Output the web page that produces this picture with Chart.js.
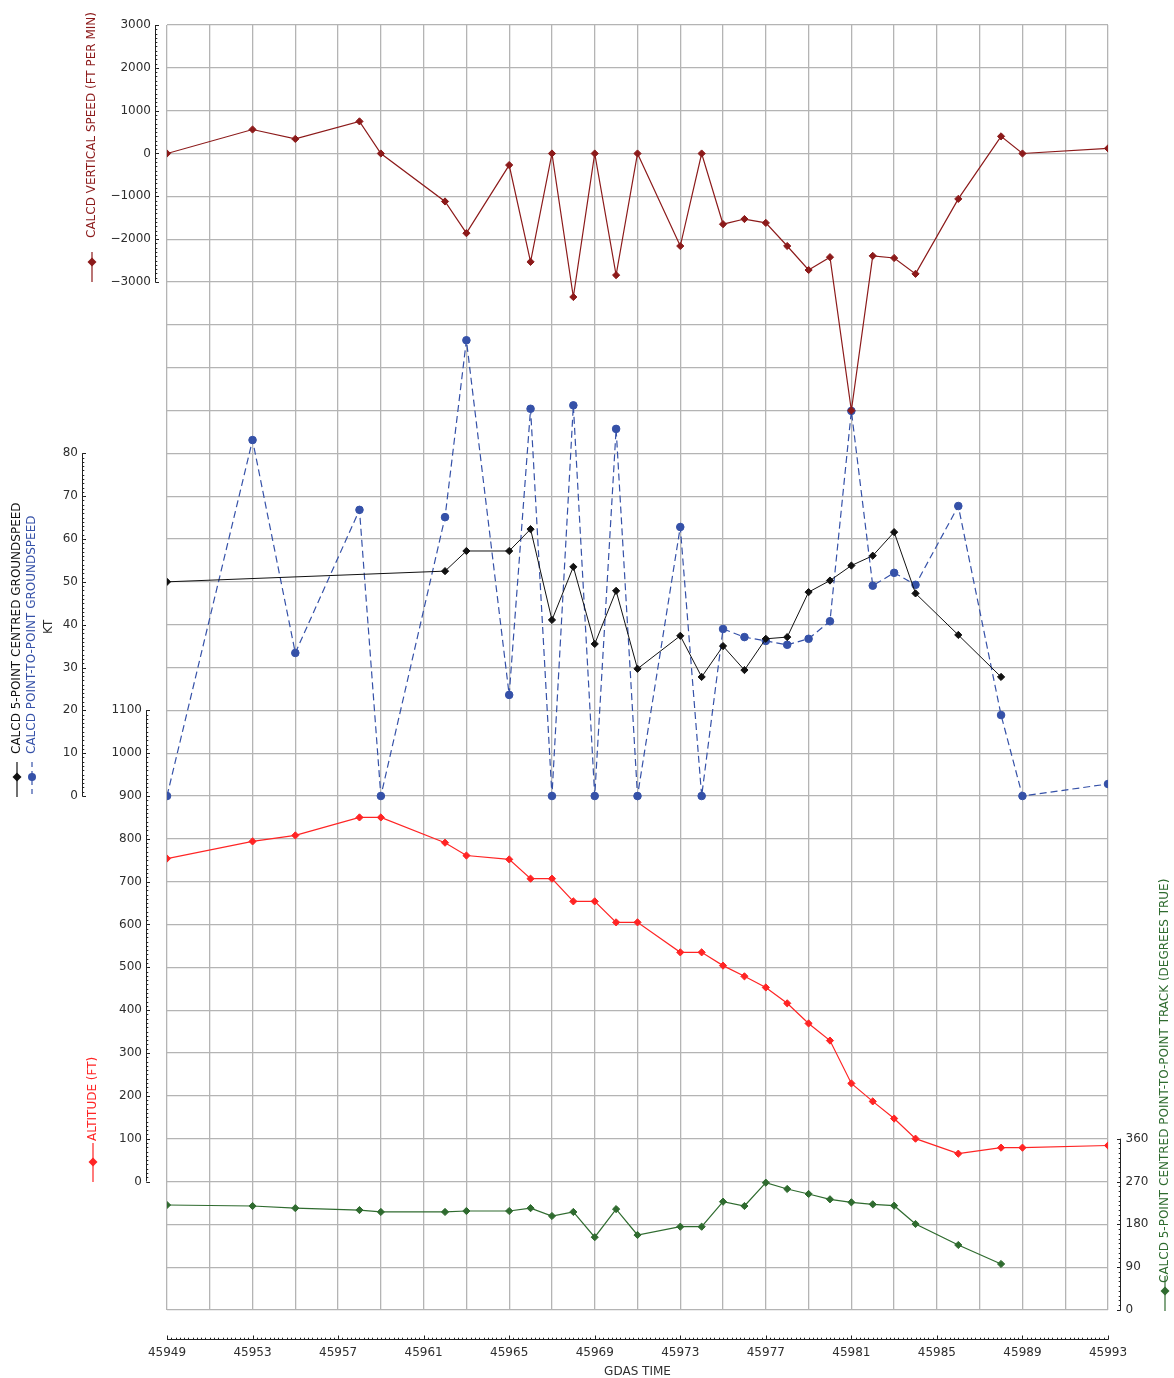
<!DOCTYPE html>
<html><head><meta charset="utf-8">
<script src="https://cdn.jsdelivr.net/npm/chart.js@4.4.1/dist/chart.umd.min.js"></script>
<style>html,body{margin:0;padding:0;background:#fff}#wrap{width:1174px;height:1378px;position:relative}</style>
</head><body><div id="wrap"><canvas id="c" width="1174" height="1378"></canvas></div>
<script>
// ---------- DATA ----------
const gdasTime = [45949,45953,45955,45958,45959,45962,45963,45965,45966,45967,45968,45969,45970,45971,45973,45974,45975,45976,45977,45978,45979,45980,45981,45982,45983,45984,45986,45988,45989,45993];
const vertSpeed = [0,560,340,750,0,-1120,-1860,-270,-2530,0,-3350,0,-2840,0,-2160,0,-1650,-1530,-1620,-2160,-2720,-2420,-6000,-2390,-2440,-2810,-1060,400,0,120];
const ptpGroundspeed = [0,83.1,33.4,66.8,0,65.1,106.4,23.6,90.4,0,91.2,0,85.7,0,62.8,0,39.0,37.1,36.2,35.3,36.7,40.8,89.9,49.1,52.1,49.3,67.7,18.9,0,2.8];
const centredGroundspeed = [50.0,null,null,null,null,52.5,57.2,57.2,62.3,41.1,53.5,35.5,47.9,29.7,37.4,27.8,35.0,29.4,36.7,37.1,47.6,50.3,53.8,56.1,61.6,47.3,37.6,27.8,null,null];
const altitude = [754,794,808,850,850,791,761,752,707,707,654,654,605,605,535,535,504,479,453,416,369,329,229,187,147,100,65,79,79,84];
const track = [220.6,218.5,214,210,206,206,208,208,214,197.5,206,153,212,157.6,175,175,227.6,218.5,267.5,254.3,243.8,232.6,226.3,222.1,219.2,180.7,136.6,96.7,null,null];

const xTickLabels = [45949,45953,45957,45961,45965,45969,45973,45977,45981,45985,45989,45993];
const vsTicks = [3000,2000,1000,0,-1000,-2000,-3000];
const gsTicks = [80,70,60,50,40,30,20,10,0];
const altTicks = [1100,1000,900,800,700,600,500,400,300,200,100,0];
const trackTicks = [360,270,180,90,0];

// ---------- STYLE ----------
const C_VS = '#8c1a1a', C_ALT = '#ff2424', C_GS = '#111111', C_PTP = '#3551a8', C_TRK = '#2f6b2f';
const GRID = '#b4b4b4';
const FONT = '12px "DejaVu Sans", sans-serif';
const TXT = '#2e2e2e';

function pts(vals){ return gdasTime.map((t,i)=>({x:t, y:vals[i]})); }
function fmt(v){ return v < 0 ? '\u2212' + Math.abs(v) : String(v); }

const xGrid = []; for (let v = 45949; v <= 45993; v += 2) xGrid.push(v);
const vsGrid = []; for (let v = -27000; v <= 3000; v += 1000) vsGrid.push(v);

function drawYAxis(ctx, scale, spec){
  const {x, side, ticks, minor} = spec;
  const dir = side === 'left' ? 1 : -1;
  const lo = Math.min(...ticks), hi = Math.max(...ticks);
  const yTop = scale.getPixelForValue(hi), yBot = scale.getPixelForValue(lo);
  ctx.save();
  ctx.strokeStyle = '#222'; ctx.lineWidth = 1;
  ctx.beginPath();
  ctx.moveTo(x, yTop); ctx.lineTo(x, yBot);
  const n = Math.round((hi - lo) / minor);
  for (let k = 0; k <= n; k++) {
    const y = Math.round(scale.getPixelForValue(lo + k*minor)) + 0.5;
    ctx.moveTo(x, y); ctx.lineTo(x + dir*1.8, y);
  }
  ticks.forEach(v => { const y = Math.round(scale.getPixelForValue(v)) + 0.5; ctx.moveTo(x, y); ctx.lineTo(x + dir*3.5, y); });
  ctx.stroke();
  ctx.fillStyle = TXT; ctx.font = FONT; ctx.textBaseline = 'middle';
  ctx.textAlign = side === 'left' ? 'right' : 'left';
  ticks.forEach(v => {
    const y = scale.getPixelForValue(v);
    ctx.fillText(fmt(v), side === 'left' ? x - 4.5 : x + 5, y);
  });
  ctx.restore();
}

function vTitle(ctx, text, x, yStart, color){
  ctx.save();
  ctx.translate(x, yStart); ctx.rotate(-Math.PI/2);
  ctx.fillStyle = color; ctx.font = FONT; ctx.textAlign = 'left'; ctx.textBaseline = 'middle';
  ctx.fillText(text, 0, 0);
  ctx.restore();
}

function symbol(ctx, x, y1, y2, ym, color, marker, dashed){
  ctx.save();
  ctx.strokeStyle = color; ctx.fillStyle = color; ctx.lineWidth = 1.2;
  if (dashed) ctx.setLineDash([5,4]);
  ctx.beginPath(); ctx.moveTo(x, y1); ctx.lineTo(x, y2); ctx.stroke();
  ctx.setLineDash([]);
  ctx.beginPath();
  if (marker === 'circle') { ctx.arc(x, ym, 4, 0, Math.PI*2); }
  else { ctx.moveTo(x, ym-4.5); ctx.lineTo(x+4.5, ym); ctx.lineTo(x, ym+4.5); ctx.lineTo(x-4.5, ym); ctx.closePath(); }
  ctx.fill();
  ctx.restore();
}

const axesPlugin = {
  id: 'customAxes',
  afterDraw(chart){
    const ctx = chart.ctx, s = chart.scales;
    drawYAxis(ctx, s.yVS, {x:155.5, side:'left', ticks:vsTicks, minor:100});
    drawYAxis(ctx, s.yGS, {x:82.5, side:'left', ticks:gsTicks, minor:1});
    drawYAxis(ctx, s.yAlt, {x:146.5, side:'left', ticks:altTicks, minor:10});
    drawYAxis(ctx, s.yTrk, {x:1120.5, side:'right', ticks:trackTicks, minor:10});
    // x axis (detached below plot)
    const xs = s.x, yAx = 1339.5;
    ctx.save();
    ctx.strokeStyle = '#222'; ctx.lineWidth = 1;
    ctx.beginPath();
    ctx.moveTo(xs.getPixelForValue(45949), yAx); ctx.lineTo(xs.getPixelForValue(45993), yAx);
    for (let k = 0; k <= 220; k++) {
      const px = Math.round(xs.getPixelForValue(45949 + k*0.2)) + 0.5;
      ctx.moveTo(px, yAx); ctx.lineTo(px, yAx - 1.8);
    }
    xTickLabels.forEach(v => { const px = Math.round(xs.getPixelForValue(v)) + 0.5; ctx.moveTo(px, yAx); ctx.lineTo(px, yAx - 4); });
    ctx.stroke();
    ctx.fillStyle = TXT; ctx.font = FONT; ctx.textAlign = 'center'; ctx.textBaseline = 'middle';
    xTickLabels.forEach(v => ctx.fillText(String(v), xs.getPixelForValue(v), 1353));
    ctx.fillText('GDAS TIME', (chart.chartArea.left + chart.chartArea.right)/2, 1372);
    ctx.restore();
    // axis titles and legend keys
    vTitle(ctx, 'CALCD VERTICAL SPEED (FT PER MIN)', 92, 238, C_VS);
    symbol(ctx, 92, 252, 282, 262, C_VS, 'diamond', false);
    vTitle(ctx, 'CALCD 5-POINT CENTRED GROUNDSPEED', 17, 754, C_GS);
    symbol(ctx, 17, 762, 797, 777, C_GS, 'diamond', false);
    vTitle(ctx, 'CALCD POINT-TO-POINT GROUNDSPEED', 32, 754, C_PTP);
    symbol(ctx, 32, 762, 797, 777, C_PTP, 'circle', true);
    vTitle(ctx, 'KT', 49, 634, TXT);
    vTitle(ctx, 'ALTITUDE (FT)', 93, 1141, C_ALT);
    symbol(ctx, 93, 1143, 1182, 1162, C_ALT, 'diamond', false);
    vTitle(ctx, 'CALCD 5-POINT CENTRED POINT-TO-POINT TRACK (DEGREES TRUE)', 1165, 1283, C_TRK);
    symbol(ctx, 1165, 1276, 1311, 1291, C_TRK, 'diamond', false);
  }
};

const common = {borderWidth:1.2, pointBorderWidth:1, pointRadius:3.6, tension:0, spanGaps:true};

new Chart(document.getElementById('c'), {
  type: 'line',
  data: { datasets: [
    Object.assign({label:'CALCD VERTICAL SPEED (FT PER MIN)', data:pts(vertSpeed), yAxisID:'yVS', borderColor:C_VS, backgroundColor:C_VS, pointStyle:'rectRot'}, common),
    Object.assign({label:'CALCD 5-POINT CENTRED GROUNDSPEED', data:pts(centredGroundspeed), yAxisID:'yGS', borderColor:C_GS, backgroundColor:C_GS, pointStyle:'rectRot'}, common, {borderWidth:1}),
    Object.assign({label:'CALCD POINT-TO-POINT GROUNDSPEED', data:pts(ptpGroundspeed), yAxisID:'yGS', borderColor:C_PTP, backgroundColor:C_PTP, pointStyle:'circle', borderDash:[7,4]}, common, {pointRadius:3.8}),
    Object.assign({label:'ALTITUDE (FT)', data:pts(altitude), yAxisID:'yAlt', borderColor:C_ALT, backgroundColor:C_ALT, pointStyle:'rectRot'}, common),
    Object.assign({label:'CALCD 5-POINT CENTRED POINT-TO-POINT TRACK (DEGREES TRUE)', data:pts(track), yAxisID:'yTrk', borderColor:C_TRK, backgroundColor:C_TRK, pointStyle:'rectRot'}, common)
  ]},
  options: {
    responsive:false, animation:false, devicePixelRatio:1, events:[],
    layout:{padding:{left:167, right:66, top:25, bottom:68}},
    plugins:{legend:{display:false}, tooltip:{enabled:false}},
    scales:{
      x:{type:'linear', min:45949, max:45993, display:true, border:{display:false},
         grid:{color:GRID, lineWidth:1.3, drawTicks:false}, ticks:{display:false},
         afterBuildTicks:s=>{ s.ticks = xGrid.map(v=>({value:v})); }},
      yVS:{type:'linear', position:'left', min:-27000, max:3000, display:true, border:{display:false},
         grid:{color:GRID, lineWidth:1.3, drawTicks:false}, ticks:{display:false},
         afterBuildTicks:s=>{ s.ticks = vsGrid.map(v=>({value:v})); }},
      yGS:{type:'linear', position:'left', min:-120, max:180, display:false},
      yAlt:{type:'linear', position:'left', min:-300, max:2700, display:false},
      yTrk:{type:'linear', position:'right', min:0, max:2700, display:false}
    }
  },
  plugins:[axesPlugin]
});
</script></body></html>
